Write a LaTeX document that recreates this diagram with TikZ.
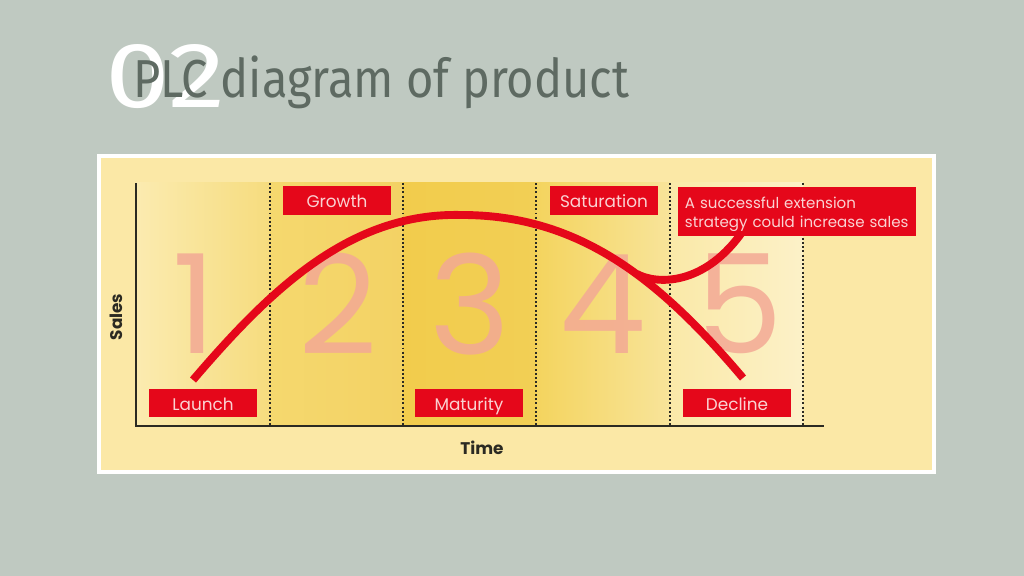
\documentclass[tikz,border=0pt]{standalone}
\usepackage{graphicx}
\usepackage{fontspec}
\setmainfont{Poppins}
\newfontfamily\titlefont{Fira Sans}[FakeStretch=0.88]
\newfontfamily\numfont{Fira Sans}

\definecolor{bgsage}{HTML}{BFC9C1}
\definecolor{panelcream}{HTML}{FBE8A6}
\definecolor{plcred}{HTML}{E5071A}
\definecolor{labeltext}{HTML}{FAD2D2}
\definecolor{numpink}{HTML}{F3A995}
\definecolor{titlegray}{HTML}{5E6A62}
\definecolor{axisdark}{HTML}{2B2A22}

\begin{document}
\begin{tikzpicture}[x=0.025cm, y=-0.025cm,
    stagebox/.style={rectangle, fill=plcred, text=labeltext, minimum width=2.7cm, minimum height=0.7cm, inner sep=0pt, text height=10pt, text depth=0pt, font=\fontsize{12}{14}\selectfont},
    phase/.style={text=numpink, text opacity=0.85, inner sep=0pt, font=\fontsize{98}{98}\selectfont},
    divider/.style={axisdark, line width=1.4pt, dash pattern=on 1.4pt off 1.6pt},
    curve/.style={plcred, line width=5.6pt},
    axis/.style={axisdark, line width=1.8pt},
    axislabel/.style={text=axisdark, font=\bfseries\fontsize{12}{14}\selectfont}
]

% Sfondo
\fill[bgsage] (0,0) rectangle (1024,576);
\useasboundingbox (0,0) rectangle (1024,576);
\fill[white] (97,154) rectangle (936,474);
\fill[panelcream] (101,158) rectangle (932,470);

% Titolo
\node[anchor=base west, inner sep=0pt, text=white, font=\numfont\fontsize{66}{66}\selectfont] (num) at (105,108) {\scalebox{1.25}[1]{02}};
\node[anchor=base west, inner sep=0pt, text=titlegray, font=\titlefont\fontsize{38}{40}\selectfont] (title) at (133,98) {PLC diagram of product};

% Fasi
\shade[left color={rgb,255:red,251;green,235;blue,176}, right color={rgb,255:red,246;green,220;blue,126}] (136,183) rectangle (270,426);
\shade[left color={rgb,255:red,245;green,216;blue,110}, middle color={rgb,255:red,247;green,222;blue,128}, right color={rgb,255:red,243;green,210;blue,100}] (270,183) rectangle (403,426);
\shade[left color={rgb,255:red,242;green,204;blue,76}, middle color={rgb,255:red,241;green,200;blue,62}, right color={rgb,255:red,242;green,207;blue,85}] (403,183) rectangle (536,426);
\shade[left color={rgb,255:red,244;green,212;blue,94}, right color={rgb,255:red,248;green,228;blue,154}] (536,183) rectangle (670,426);
\shade[left color={rgb,255:red,250;green,233;blue,168}, right color={rgb,255:red,252;green,241;blue,200}] (670,183) rectangle (803,426);

\draw[divider] (270,183) -- (270,426);
\draw[divider] (403,183) -- (403,426);
\draw[divider] (536,183) -- (536,426);
\draw[divider] (670,183) -- (670,426);
\draw[divider] (803,183) -- (803,426);

% Assi
\coordinate (ytop) at (136,183);
\coordinate (origin) at (136,426);
\coordinate (xend) at (824,426);
\draw[axis] (ytop) -- (origin) -- (xend);
\node[axislabel, rotate=90] (sales) at (116,317) {Sales};
\node[axislabel] (time) at (482,448) {Time};

% Numeri
\node[phase] (n1) at (195,304) {1};
\node[phase] (n2) at (338,304) {2};
\node[phase] (n3) at (470,304) {3};
\node[phase] (n4) at (603,304) {4};
\node[phase] (n5) at (740,304) {5};

% Curva
\coordinate (launchpt) at (193,380);
\coordinate (peak) at (462,215);
\coordinate (declinept) at (743,378);
\coordinate (branch) at (637,274);
\coordinate (extend) at (745,228);
\draw[curve] (launchpt) .. controls (270,290) and (350,212) .. (peak) .. controls (580,215) and (660,280) .. (declinept);
\draw[curve] (branch) .. controls (655,284) and (705,288) .. (extend);

% Etichette
\node[stagebox] (launch) at (203,403) {Launch};
\node[stagebox] (growth) at (337,200.5) {Growth};
\node[stagebox] (maturity) at (469,403) {Maturity};
\node[stagebox] (saturation) at (604,200.5) {Saturation};
\node[stagebox] (decline) at (737,403) {Decline};
\node[stagebox, minimum width=5.95cm, minimum height=1.225cm, text width=5.6cm, text height=, text depth=, align=left, font=\fontsize{10.7}{13.8}\selectfont] (ext) at (797,211.5) {\rule{0pt}{12pt}A successful extension\\strategy could increase sales};

\end{tikzpicture}
\end{document}
